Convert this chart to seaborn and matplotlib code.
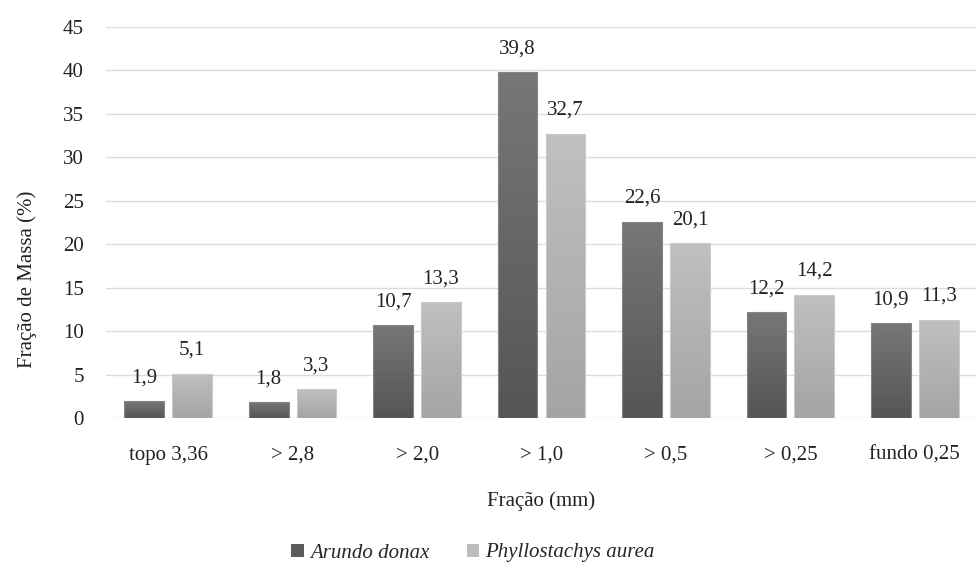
import numpy as np
import pandas as pd
import matplotlib
matplotlib.use("Agg")
import matplotlib.pyplot as plt
from matplotlib.patches import Patch
from matplotlib.colors import to_rgb
import seaborn as sns

categories = ["topo 3,36", "> 2,8", "> 2,0", "> 1,0", "> 0,5", "> 0,25", "fundo 0,25"]
series_names = ["Arundo donax", "Phyllostachys aurea"]
arundo = [1.9, 1.8, 10.7, 39.8, 22.6, 12.2, 10.9]
phyllo = [5.1, 3.3, 13.3, 32.7, 20.1, 14.2, 11.3]
yticks = [0, 5, 10, 15, 20, 25, 30, 35, 40, 45]

df = pd.DataFrame({
    "Fração": categories * 2,
    "Espécie": [series_names[0]] * len(categories) + [series_names[1]] * len(categories),
    "Valor": arundo + phyllo,
})

sns.set_style("white")
plt.rcParams["font.family"] = ["Liberation Serif", "DejaVu Serif"]
FS = 15
TXT = "#222222"

fig = plt.figure(figsize=(9.76, 5.64), dpi=100)
ax = fig.add_axes([106 / 976, 1 - 418 / 564, 871 / 976, 391 / 564])

palette = {series_names[0]: "#5e5e5e", series_names[1]: "#b3b3b3"}
sns.barplot(data=df, x="Fração", y="Valor", hue="Espécie", order=categories,
            hue_order=series_names, palette=palette, width=0.77, gap=0.17,
            legend=False, ax=ax, errorbar=None)

grads = [("#555555", "#777777", "#858585"), ("#a4a4a4", "#c0c0c0", "#cacaca")]
for cont, (cb, ct, ce) in zip(ax.containers, grads):
    cb, ct = np.array(to_rgb(cb)), np.array(to_rgb(ct))
    t = np.linspace(0, 1, 256)[:, None, None]
    arr = cb[None, None, :] * (1 - t) + ct[None, None, :] * t
    for bar in cont:
        x0 = bar.get_x(); w = bar.get_width(); h = bar.get_height()
        im = ax.imshow(arr, extent=[x0, x0 + w, 0, h], aspect="auto",
                       origin="lower", zorder=2.1, interpolation="bilinear")
        im.set_clip_path(bar)
        bar.set_facecolor("none")
        bar.set_edgecolor(ce)
        bar.set_linewidth(0.8)
        bar.set_zorder(2.2)
    vals = [b.get_height() for b in cont]
    ax.bar_label(cont, labels=[f"{v:.1f}".replace(".", ",") for v in vals],
                 padding=10, fontsize=FS, color=TXT)

ax.set_xlim(-0.5, len(categories) - 0.5)
ax.set_ylim(0, 45)
ax.set_yticks(yticks)
ax.set_xticks(range(len(categories)))
ax.set_xticklabels(categories)
for s in ax.spines.values():
    s.set_visible(False)
ax.grid(axis="y", color="#d9dde3", linewidth=1.0)
ax.grid(axis="x", visible=False)
ax.set_axisbelow(True)
ax.tick_params(axis="x", length=0, pad=20, labelsize=FS, colors=TXT)
ax.tick_params(axis="y", length=0, pad=16, labelsize=FS, colors=TXT)

ax.set_xlabel("Fração (mm)", fontsize=FS, color=TXT)
ax.xaxis.set_label_coords(0.5, (418 - 491) / 391)
ax.set_ylabel("Fração de Massa (%)", fontsize=FS, color=TXT)
ax.yaxis.set_label_coords((37 - 106) / 871, (418 - 279) / 391)

handles = [Patch(facecolor="#5b5b5b", edgecolor="none"),
           Patch(facecolor="#bdbdbd", edgecolor="none")]
fig.legend(handles, series_names, loc="center", bbox_to_anchor=(473 / 976, 1 - 553 / 564),
           ncol=2, frameon=False, handlelength=0.6, handleheight=0.6,
           handletextpad=0.3, columnspacing=1.8,
           prop={"family": ["Liberation Serif"], "style": "italic", "size": FS})

fig.savefig("out.png", dpi=100)
